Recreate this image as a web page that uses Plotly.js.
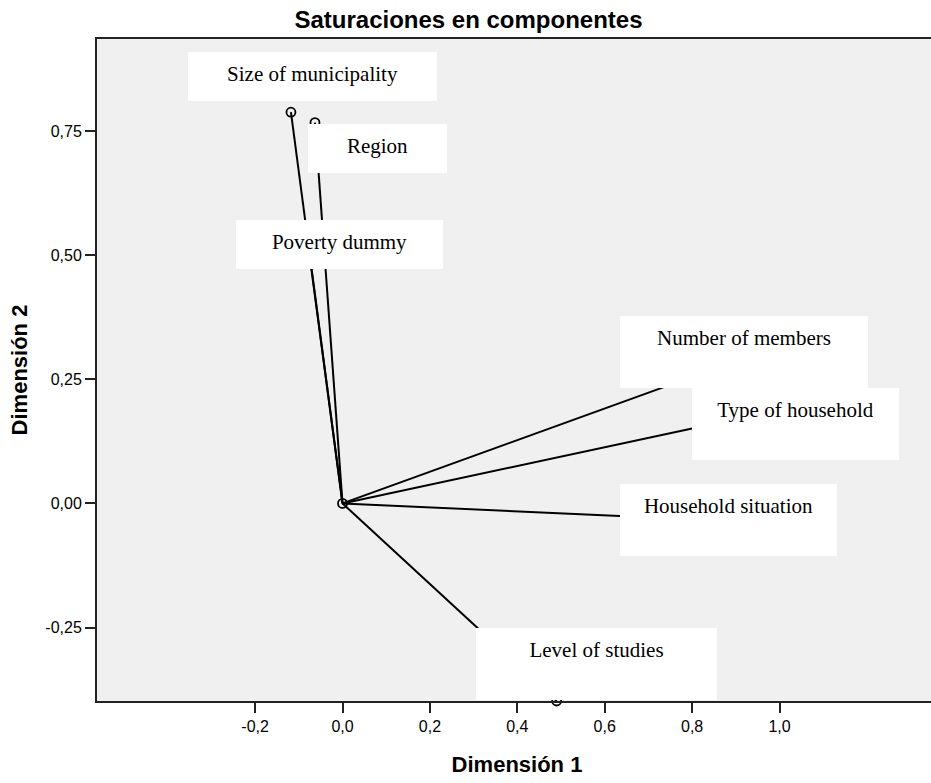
<!DOCTYPE html>
<html>
<head>
<meta charset="utf-8">
<script src="https://cdn.plot.ly/plotly-3.0.1.min.js"></script>
<style>
  html, body { margin: 0; padding: 0; overflow: hidden; background: #fff; }
  #chart { width: 937px; height: 783px; }
</style>
</head>
<body>
<div id="chart"></div>
<script>
// ---- data (component loadings) ----
const variables = ["Size of municipality", "Region", "Poverty dummy", "Number of members",
                   "Type of household", "Household situation", "Level of studies"];
const dim1 = [-0.118, -0.063, -0.080, 0.800, 0.880, 0.800, 0.490];
const dim2 = [0.788, 0.767, 0.530, 0.255, 0.166, -0.032, -0.398];
const xTicks = [-0.2, 0.0, 0.2, 0.4, 0.6, 0.8, 1.0];
const yTicks = [-0.25, 0.0, 0.25, 0.5, 0.75];
const chartTitle = "Saturaciones en componentes";
const xTitle = "Dimensión 1";
const yTitle = "Dimensión 2";

// ---- label box styling (pixel offsets of box top-left from the point, box sizes) ----
const labelShiftX = [-103, -7, -71.5, -72, -35, -72, -80.5];
const labelShiftY = [60, -1.3, 20.3, 61, 33, 35.3, 73];
const labelW = [249, 139, 207, 248, 207, 217, 241];
const labelH = [49, 49, 49, 72, 72, 72, 72];
const pad = 10;

const fmt = (v, d) => v.toFixed(d).replace(".", ",");

const traces = [];
variables.forEach((v, i) => {
  traces.push({
    type: "scatter", mode: "lines",
    x: [0, dim1[i]], y: [0, dim2[i]],
    line: { color: "#000", width: 2 },
    hoverinfo: "skip", showlegend: false
  });
});
traces.push({
  type: "scatter", mode: "markers",
  x: [0].concat(dim1), y: [0].concat(dim2),
  cliponaxis: false,
  marker: { symbol: "circle-open", size: 9, color: "#000", line: { width: 1.8, color: "#000" } },
  hoverinfo: "skip", showlegend: false
});

const annotations = variables.map((v, i) => ({
  x: dim1[i], y: dim2[i], xref: "x", yref: "y",
  text: v, showarrow: false,
  xanchor: "left", yanchor: "top",
  xshift: labelShiftX[i], yshift: labelShiftY[i],
  width: labelW[i] - 2 * pad, height: labelH[i] - 2 * pad,
  borderpad: pad, borderwidth: 0,
  bgcolor: "#ffffff", align: "center", valign: "top",
  font: { family: "Liberation Serif, Times New Roman, serif", size: 21, color: "#000" }
}));

const layout = {
  width: 937, height: 783,
  margin: { l: 97, r: 0, t: 39, b: 82, pad: 0 },
  paper_bgcolor: "#ffffff",
  plot_bgcolor: "#f0f0f0",
  separators: ",.",
  font: { family: "Liberation Sans, Arial, sans-serif", color: "#000" },
  title: {
    text: chartTitle, xref: "container", x: 0.5, xanchor: "center",
    yref: "container", y: 1 - 20 / 783, yanchor: "middle",
    font: { family: "Liberation Sans, Arial, sans-serif", size: 24, weight: "bold", color: "#000" }
  },
  xaxis: {
    range: [-0.5618, 1.3604],
    tickmode: "array", tickvals: xTicks, ticktext: xTicks.map(v => fmt(v, 1)),
    showgrid: false, zeroline: false,
    showline: true, linecolor: "#222", linewidth: 2, mirror: true,
    ticks: "outside", ticklen: 10, tickwidth: 2, tickcolor: "#222",
    tickfont: { size: 16, color: "#000" },
    title: { text: xTitle, standoff: 22,
             font: { size: 22, weight: "bold", color: "#000" } },
    automargin: false, fixedrange: true
  },
  yaxis: {
    range: [-0.398, 0.9355],
    tickmode: "array", tickvals: yTicks, ticktext: yTicks.map(v => fmt(v, 2)),
    showgrid: false, zeroline: false,
    showline: true, linecolor: "#222", linewidth: 2,
    ticks: "outside", ticklen: 10, tickwidth: 2, tickcolor: "#222",
    tickfont: { size: 16, color: "#000" },
    title: { text: yTitle, standoff: 12,
             font: { size: 22, weight: "bold", color: "#000" } },
    automargin: false, fixedrange: true
  },
  annotations: annotations
};

Plotly.newPlot("chart", traces, layout, { displayModeBar: false, staticPlot: true });
</script>
</body>
</html>
